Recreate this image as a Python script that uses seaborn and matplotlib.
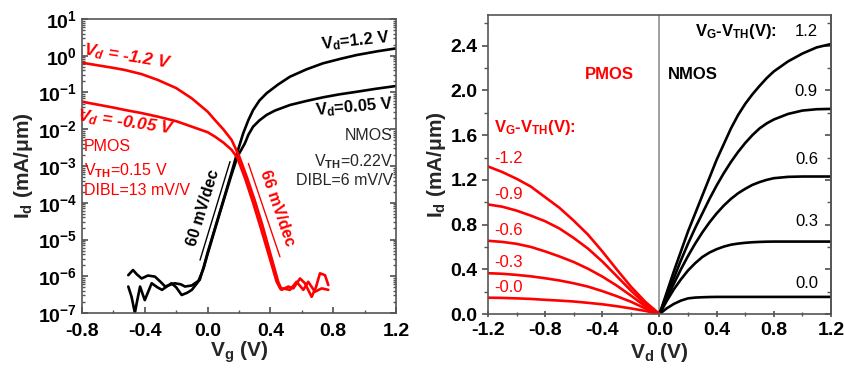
import matplotlib
matplotlib.use("Agg")
import matplotlib.pyplot as plt
import numpy as np
import pandas as pd
import seaborn as sns
from matplotlib.ticker import FuncFormatter, LogLocator, MultipleLocator, FormatStrFormatter, NullFormatter

sns.set_theme(style="ticks")
plt.rcParams["font.family"] = ["Liberation Sans", "DejaVu Sans"]
plt.rcParams["font.weight"] = "bold"
plt.rcParams["axes.labelweight"] = "bold"
plt.rcParams["axes.unicode_minus"] = False
plt.rcParams["mathtext.fontset"] = "custom"
plt.rcParams["mathtext.rm"] = "Liberation Sans"
plt.rcParams["mathtext.it"] = "Liberation Sans:italic"
plt.rcParams["mathtext.bf"] = "Liberation Sans:bold"
plt.rcParams["mathtext.bfit"] = "Liberation Sans:italic:bold"

_red = "#ff0000"
_black = "black"
_spine = "#555555"

# ---- left panel: transfer curves, Vg (V) and log10 Id (mA/um)
nmos_hi_vg = [-0.505, -0.475, -0.45, -0.42, -0.38, -0.335, -0.30, -0.27, -0.21, -0.17, -0.144, -0.10,
              -0.08, -0.05, -0.025, 0.0, 0.05, 0.10, 0.15, 0.19, 0.227, 0.26, 0.29, 0.33, 0.376, 0.45,
              0.525, 0.63, 0.735, 0.85, 0.95, 1.08, 1.2]
nmos_hi_logid = [-5.97, -5.83, -5.95, -6.06, -5.98, -6.01, -6.15, -6.28, -6.19, -6.22, -6.28, -6.25,
                 -6.19, -6.10, -5.75, -5.36, -4.65, -3.94, -3.22, -2.62, -2.11, -1.75, -1.48, -1.22, -1.02, -0.78,
                 -0.57, -0.37, -0.206, -0.08, 0.02, 0.12, 0.20]

nmos_lo_vg = [-0.505, -0.484, -0.463, -0.45, -0.43, -0.40, -0.356, -0.32, -0.29, -0.23, -0.20, -0.165,
              -0.13, -0.10, -0.06, -0.025, 0.0, 0.05, 0.10, 0.15, 0.19, 0.238, 0.26, 0.29, 0.33, 0.376,
              0.43, 0.525, 0.63, 0.737, 0.84, 0.95, 1.07, 1.2]
nmos_lo_logid = [-6.28, -6.56, -7.0, -6.7, -6.28, -6.65, -6.19, -6.3, -6.37, -6.19, -6.3, -6.51,
                 -6.45, -6.37, -6.15, -5.78, -5.40, -4.68, -3.97, -3.27, -2.75, -2.38, -2.15, -1.93, -1.76, -1.61,
                 -1.49, -1.34, -1.23, -1.13, -1.05, -0.98, -0.90, -0.823]

pmos_hi_vg = [-0.8, -0.7, -0.6, -0.526, -0.42, -0.316, -0.2, -0.101, 0.0, 0.047, 0.10, 0.153, 0.2,
              0.25, 0.30, 0.35, 0.40, 0.45, 0.472, 0.514, 0.546, 0.589, 0.62, 0.663, 0.69, 0.716, 0.748, 0.769]
pmos_hi_logid = [-0.19, -0.26, -0.33, -0.388, -0.50, -0.66, -0.88, -1.158, -1.52, -1.75, -2.0, -2.29, -2.72,
                 -3.3, -3.93, -4.62, -5.39, -6.15, -6.37, -6.28, -6.33, -6.06, -6.19, -6.56, -6.3, -5.92, -5.97, -6.24]

pmos_lo_vg = [-0.8, -0.7, -0.6, -0.526, -0.42, -0.314, -0.2, -0.10, 0.0, 0.047, 0.10, 0.153, 0.19,
              0.24, 0.29, 0.34, 0.39, 0.44, 0.465, 0.48, 0.525, 0.567, 0.61, 0.641, 0.684, 0.727, 0.769]
pmos_lo_logid = [-1.25, -1.33, -1.41, -1.476, -1.56, -1.66, -1.78, -1.93, -2.08, -2.2, -2.36, -2.56, -2.78,
                 -3.35, -4.0, -4.7, -5.42, -6.15, -6.35, -6.33, -6.37, -6.15, -6.37, -6.15, -6.42, -6.33, -6.37]

ss_n_vg = [-0.048, 0.143]
ss_n_logid = [-5.56, -2.88]
ss_p_vg = [0.26, 0.461]
ss_p_logid = [-2.93, -5.47]

# ---- right panel: output curves, Vd (V) and Id (mA/um)
nmos_vd = [0.0, 0.05, 0.1, 0.15, 0.2, 0.25, 0.3, 0.35, 0.4, 0.45, 0.5, 0.55, 0.6, 0.65, 0.7, 0.75,
           0.8, 0.9, 1.0, 1.1, 1.2]
nmos_id = {
    "1.2": [0.0, 0.19, 0.38, 0.56, 0.74, 0.90, 1.06, 1.22, 1.38, 1.52, 1.66, 1.78, 1.88, 1.965, 2.04, 2.11,
            2.17, 2.26, 2.33, 2.385, 2.415],
    "0.9": [0.0, 0.16, 0.32, 0.48, 0.63, 0.77, 0.90, 1.03, 1.15, 1.26, 1.36, 1.45, 1.53, 1.60, 1.66, 1.705,
            1.74, 1.79, 1.82, 1.832, 1.835],
    "0.6": [0.0, 0.14, 0.27, 0.40, 0.52, 0.63, 0.73, 0.82, 0.90, 0.97, 1.03, 1.08, 1.12, 1.155, 1.18, 1.20,
            1.215, 1.227, 1.23, 1.23, 1.23],
    "0.3": [0.0, 0.115, 0.22, 0.31, 0.39, 0.455, 0.51, 0.55, 0.58, 0.603, 0.62, 0.63, 0.637, 0.642, 0.645,
            0.647, 0.648, 0.648, 0.648, 0.648, 0.648],
    "0.0": [0.0, 0.05, 0.09, 0.12, 0.14, 0.147, 0.15, 0.152, 0.153, 0.153, 0.153, 0.153, 0.153, 0.153, 0.153,
            0.153, 0.153, 0.153, 0.153, 0.153, 0.153],
}
pmos_vd = [-1.2, -1.1, -1.0, -0.9, -0.8, -0.7, -0.6, -0.5, -0.4, -0.3, -0.2, -0.1, 0.0]
pmos_id = {
    "-1.2": [1.32, 1.27, 1.21, 1.14, 1.045, 0.95, 0.835, 0.71, 0.56, 0.40, 0.245, 0.11, 0.0],
    "-0.9": [0.98, 0.96, 0.925, 0.88, 0.83, 0.765, 0.68, 0.585, 0.47, 0.34, 0.21, 0.09, 0.0],
    "-0.6": [0.655, 0.645, 0.628, 0.60, 0.56, 0.515, 0.465, 0.405, 0.335, 0.255, 0.165, 0.07, 0.0],
    "-0.3": [0.365, 0.36, 0.35, 0.337, 0.32, 0.30, 0.275, 0.245, 0.205, 0.16, 0.11, 0.05, 0.0],
    "-0.0": [0.146, 0.144, 0.14, 0.135, 0.127, 0.12, 0.112, 0.10, 0.087, 0.07, 0.05, 0.028, 0.0],
}
nmos_label_id = {"1.2": 2.53, "0.9": 1.995, "0.6": 1.378, "0.3": 0.828, "0.0": 0.277}
pmos_label_id = {"-1.2": 1.387, "-0.9": 1.065, "-0.6": 0.75, "-0.3": 0.465, "-0.0": 0.233}


def style_spines(ax):
    for s in ax.spines.values():
        s.set_color(_spine)
        s.set_linewidth(1.2)
        s.set_visible(True)


fig = plt.figure(figsize=(8.45, 3.71), dpi=100)

# left panel
ax = fig.add_axes([0.097, 0.1563, 0.3716, 0.7925])
ax.set_yscale("log")
lw = 1.9
for vg, lg, c in [(nmos_hi_vg, nmos_hi_logid, _black), (nmos_lo_vg, nmos_lo_logid, _black),
                  (pmos_hi_vg, pmos_hi_logid, _red), (pmos_lo_vg, pmos_lo_logid, _red)]:
    sns.lineplot(x=vg, y=np.power(10.0, lg), color=c, lw=lw, sort=False, estimator=None, ax=ax)
sns.lineplot(x=ss_n_vg, y=np.power(10.0, ss_n_logid), color=_black, lw=1.0, ax=ax)
sns.lineplot(x=ss_p_vg, y=np.power(10.0, ss_p_logid), color=_red, lw=1.0, ax=ax)

ax.set_xlim(-0.8, 1.2)
ax.set_ylim(1e-7, 1e1)
ax.xaxis.set_major_locator(MultipleLocator(0.4))
ax.xaxis.set_minor_locator(MultipleLocator(0.2))
ax.xaxis.set_major_formatter(FormatStrFormatter("%.1f"))
ax.yaxis.set_major_locator(LogLocator(base=10, numticks=20))
ax.yaxis.set_minor_locator(LogLocator(base=10, subs=np.arange(2, 10), numticks=20))
ax.yaxis.set_minor_formatter(NullFormatter())
ax.yaxis.set_major_formatter(FuncFormatter(lambda v, _: r"$\mathbf{10^{%d}}$" % round(np.log10(v))))
ax.tick_params(which="both", direction="in", right=True, top=False, colors=_spine, labelcolor="black",
               labelsize=14)
ax.tick_params(which="major", length=4)
ax.tick_params(which="minor", length=2)
ax.tick_params(axis="x", pad=7)
style_spines(ax)
ax.set_xlabel(r"$\mathbf{V_g}$ (V)", fontsize=15, labelpad=0)
ax.set_ylabel(r"$\mathbf{I_d}$ (mA/μm)", fontsize=15, labelpad=2)

T = ax.transAxes
ax.text(0.145, 0.873, r"$\mathbfit{V_d}$ = -1.2 V", transform=T, color=_red, fontsize=12.5,
        fontstyle="italic", ha="center", va="center", rotation=-9)
ax.text(0.142, 0.646, r"$\mathbfit{V_d}$ = -0.05 V", transform=T, color=_red, fontsize=12.5,
        fontstyle="italic", ha="center", va="center", rotation=-8)
ax.text(0.005, 0.568, "PMOS", transform=T, color=_red, fontsize=11.5, fontweight="normal", va="center")
ax.text(0.005, 0.483, r"V$_{\rm TH}$=0.15 V", transform=T, color=_red, fontsize=11.5, fontweight="normal",
        va="center")
ax.text(0.005, 0.418, "DIBL=13 mV/V", transform=T, color=_red, fontsize=11.5, fontweight="normal", va="center")
ax.text(0.87, 0.925, r"$\mathbf{V_d}$=1.2 V", transform=T, color=_black, fontsize=12, ha="center", va="center",
        rotation=6)
ax.text(0.866, 0.70, r"$\mathbf{V_d}$=0.05 V", transform=T, color=_black, fontsize=12, ha="center",
        va="center", rotation=5)
ax.text(0.99, 0.605, "NMOS", transform=T, fontsize=11.5, fontweight="normal", ha="right", va="center")
ax.text(0.99, 0.514, r"V$_{\rm TH}$=0.22V", transform=T, fontsize=11.5, fontweight="normal", ha="right",
        va="center")
ax.text(0.99, 0.452, "DIBL=6 mV/V", transform=T, fontsize=11.5, fontweight="normal", ha="right", va="center")
ax.text(-0.029, 10 ** -4.14, "60 mV/dec", color=_black, fontsize=11.5, ha="center", va="center",
        rotation=73, rotation_mode="anchor")
ax.text(0.442, 10 ** -4.14, "66 mV/dec", color=_red, fontsize=11.5, ha="center", va="center",
        rotation=-71, rotation_mode="anchor")

# right panel
ax2 = fig.add_axes([0.5775, 0.1536, 0.4059, 0.806])
rows = []
for k, vals in nmos_id.items():
    rows += [{"vd": v, "id": i, "curve": "n" + k} for v, i in zip(nmos_vd, vals)]
for k, vals in pmos_id.items():
    rows += [{"vd": v, "id": i, "curve": "p" + k} for v, i in zip(pmos_vd, vals)]
df = pd.DataFrame(rows)
palette = {c: (_black if c.startswith("n") else _red) for c in df["curve"].unique()}
sns.lineplot(data=df, x="vd", y="id", hue="curve", palette=palette, lw=lw, legend=False,
             estimator=None, ax=ax2)
ax2.axvline(0, color="#999999", lw=1.3, zorder=0)

ax2.set_xlim(-1.2, 1.2)
ax2.set_ylim(0, 2.675)
ax2.xaxis.set_major_locator(MultipleLocator(0.4))
ax2.xaxis.set_minor_locator(MultipleLocator(0.2))
ax2.yaxis.set_major_locator(MultipleLocator(0.4))
ax2.yaxis.set_minor_locator(MultipleLocator(0.2))
ax2.xaxis.set_major_formatter(FormatStrFormatter("%.1f"))
ax2.yaxis.set_major_formatter(FormatStrFormatter("%.1f"))
ax2.tick_params(which="both", direction="out", right=False, colors=_spine, labelcolor="black", labelsize=14)
ax2.tick_params(axis="x", which="both", direction="inout")
ax2.tick_params(which="major", length=4)
ax2.tick_params(which="minor", length=3)
style_spines(ax2)
ax2.set_xlabel(r"$\mathbf{V_d}$ (V)", fontsize=15, labelpad=2)
ax2.set_ylabel(r"$\mathbf{I_d}$ (mA/μm)", fontsize=15, labelpad=2)
# inward ticks on the right spine
sec = ax2.secondary_yaxis("right")
sec.yaxis.set_major_locator(MultipleLocator(0.4))
sec.yaxis.set_minor_locator(MultipleLocator(0.2))
sec.tick_params(which="both", direction="in", colors=_spine, labelright=False)
sec.tick_params(which="major", length=4)
sec.tick_params(which="minor", length=3)
sec.spines["right"].set_color(_spine)

ax2.text(-0.353, 2.14, "PMOS", color=_red, fontsize=12, ha="center", va="center")
ax2.text(0.06, 2.14, "NMOS", color=_black, fontsize=12, ha="left", va="center")
ax2.text(-1.158, 1.665, r"$\mathbf{V_G}$-$\mathbf{V_{TH}}$(V):", color=_red, fontsize=12, ha="left",
         va="center")
ax2.text(0.822, 2.53, r"$\mathbf{V_G}$-$\mathbf{V_{TH}}$(V):", color=_black, fontsize=12, ha="right",
         va="center")
for k, y in pmos_label_id.items():
    ax2.text(-1.158, y, k, color=_red, fontsize=12, fontweight="normal", ha="left", va="center")
for k, y in nmos_label_id.items():
    ax2.text(1.109, y, k, color=_black, fontsize=12, fontweight="normal", ha="right", va="center")

fig.savefig("out.png", dpi=100)
